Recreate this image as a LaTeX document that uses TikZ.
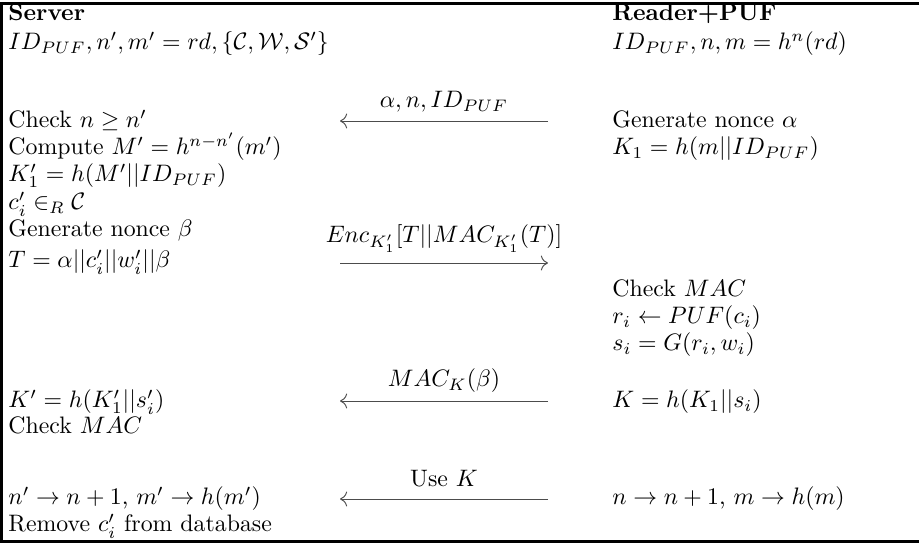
\documentclass[tikz,border=0pt]{standalone}
\usetikzlibrary{arrows.meta}
\tikzset{
  line/.style={anchor=base west, inner sep=0pt},
  msglabel/.style={anchor=base, inner sep=0pt},
  msg/.style={-{Computer Modern Rightarrow[length=3pt]}, draw=black!70, line width=0.4pt},
  frame/.style={line width=1.4pt, line cap=rect},
}
\begin{document}
\begin{tikzpicture}[x=0.42pt, y=-0.42pt]
  \useasboundingbox (0,0) rectangle (919,545);
  % frame
  \draw[frame] (922,3.5) -- (1.5,3.5) -- (1.5,541.5) -- (922,541.5);

  % server side
  \node[line] (srv)   at (8,21)  {\textbf{Server}};
  \node[line] (sdb)   at (8,50)  {$ID_{PUF}, n', m' = rd, \{\mathcal{C}, \mathcal{W}, \mathcal{S}'\}$};
  \node[line] (schk)  at (8,128) {Check $n \geq n'$};
  \node[line] (scmp)  at (8,155) {Compute $M' = h^{n-n'}(m')$};
  \node[line] (sk1)   at (8,182) {$K_1' = h(M'||ID_{PUF})$};
  \node[line] (sci)   at (8,210) {$c_i' \in_R \mathcal{C}$};
  \node[line] (sbeta) at (8,237) {Generate nonce $\beta$};
  \node[line] (st)    at (8,268) {$T = \alpha||c_i'||w_i'||\beta$};
  \node[line] (sk)    at (8,408) {$K' = h(K_1'||s_i')$};
  \node[line] (smac)  at (8,434) {Check $MAC$};
  \node[line] (supd)  at (8,505) {$n' \rightarrow n+1$, $m' \rightarrow h(m')$};
  \node[line] (srem)  at (8,532) {Remove $c_i'$ from database};

  % reader side
  \node[line] (rdr)    at (612,21)  {\textbf{Reader+PUF}};
  \node[line] (rdb)    at (612,50)  {$ID_{PUF}, n, m = h^n(rd)$};
  \node[line] (ralpha) at (612,128) {Generate nonce $\alpha$};
  \node[line] (rk1)    at (612,155) {$K_1 = h(m||ID_{PUF})$};
  \node[line] (rmac)   at (612,297) {Check $MAC$};
  \node[line] (rri)    at (612,324) {$r_i \leftarrow PUF(c_i)$};
  \node[line] (rsi)    at (612,351) {$s_i = G(r_i, w_i)$};
  \node[line] (rk)     at (612,408) {$K = h(K_1||s_i)$};
  \node[line] (rupd)   at (612,505) {$n \rightarrow n+1$, $m \rightarrow h(m)$};

  % messages
  \foreach \i/\y in {1/121, 2/263, 3/401, 4/499} {
    \coordinate (ml\i) at (340,\y);
    \coordinate (mr\i) at (548,\y);
  }
  \node[msglabel] (lab1) at (444,108) {$\alpha, n, ID_{PUF}$};
  \node[msglabel] (lab2) at (444,243) {$Enc_{K_1'}[T||MAC_{K_1'}(T)]$};
  \node[msglabel] (lab3) at (444,387) {$MAC_K(\beta)$};
  \node[msglabel] (lab4) at (444,487) {Use $K$};
  \draw[msg] (mr1) -- (ml1);
  \draw[msg] (ml2) -- (mr2);
  \draw[msg] (mr3) -- (ml3);
  \draw[msg] (mr4) -- (ml4);
\end{tikzpicture}
\end{document}
